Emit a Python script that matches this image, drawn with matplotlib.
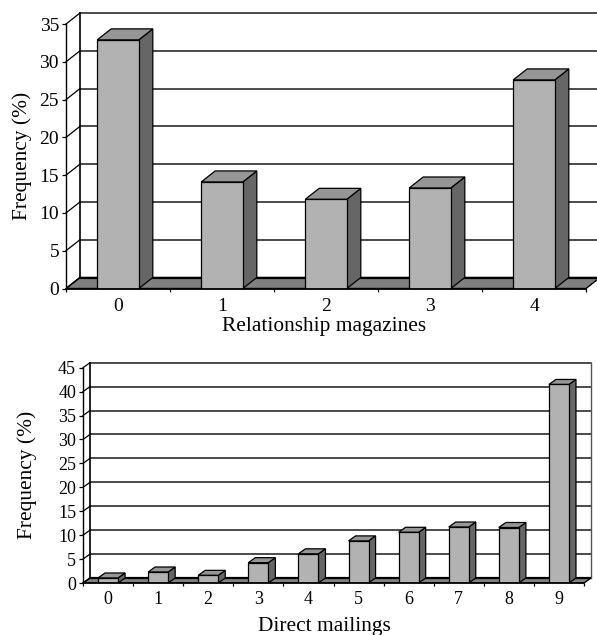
import matplotlib
matplotlib.use('Agg')
import matplotlib.pyplot as plt
from matplotlib.patches import Polygon

plt.rcParams['font.family'] = ['Liberation Serif', 'DejaVu Serif']

# values
magazines = ['0', '1', '2', '3', '4']
magazines_freq = [32.9, 14.1, 11.8, 13.3, 27.6]
magazines_ticks = [0, 5, 10, 15, 20, 25, 30, 35]

mailings = ['0', '1', '2', '3', '4', '5', '6', '7', '8', '9']
mailings_freq = [1.05, 2.3, 1.6, 4.25, 6.1, 8.8, 10.6, 11.7, 11.6, 41.5]
mailings_ticks = [0, 5, 10, 15, 20, 25, 30, 35, 40, 45]

W, H = 597, 635


def bar3d(ax, labels, values, yticks, box, depth_px, xlabel, xlabel_px, ylabel_x, tick_size, tick_pad):
    # box is left, right, bottom, top of the front plane in pixels
    left, right, bottom, top = box
    dpx, dpy = depth_px
    n = len(labels)
    ymax = yticks[-1]
    unit_x = (right - left) / n
    unit_y = (bottom - top) / ymax
    dx = dpx / unit_x
    dy = dpy / unit_y
    full_w = right - left + dpx
    full_h = bottom - top + dpy

    ax.set_position([left / W, 1 - bottom / H, full_w / W, full_h / H])
    ax.set_xlim(-0.5, n - 0.5 + dx)
    ax.set_ylim(0, ymax + dy)
    ax.patch.set_visible(False)

    # back wall and floor
    x0, x1 = -0.5, n - 0.5
    ax.add_patch(Polygon([(x0, 0), (x1, 0), (x1 + dx, dy), (x0 + dx, dy)],
                         facecolor='#808080', edgecolor='black', lw=1.0, zorder=1))
    ax.plot([x0 + dx, x1 + dx], [dy, dy], color='black', lw=1.6, zorder=1.5)
    for t in yticks[1:]:
        ax.plot([x0, x0 + dx], [t, t + dy], color='black', lw=0.9, zorder=1, clip_on=False)
        ax.plot([x0 + dx, x1 + dx], [t + dy, t + dy], color='#1a1a1a', lw=1.1, zorder=1, clip_on=False)
    ax.plot([x0, x0 + dx], [0, dy], color='black', lw=1.0, zorder=1.5)
    ax.plot([x0 + dx, x0 + dx], [dy, ymax + dy], color='black', lw=1.2, zorder=1, clip_on=False)
    ax.plot([x1 + dx, x1 + dx], [dy, ymax + dy], color='#555555', lw=1.0, zorder=1, clip_on=False)

    # bars
    w = 0.4
    for i, v in enumerate(values):
        a, b = i - w / 2, i + w / 2
        ax.add_patch(Polygon([(b, 0), (b + dx, dy), (b + dx, v + dy), (b, v)],
                             facecolor='#666666', edgecolor='black', lw=0.9, zorder=3))
        ax.add_patch(Polygon([(a, v), (b, v), (b + dx, v + dy), (a + dx, v + dy)],
                             facecolor='#969696', edgecolor='black', lw=0.9, zorder=3))
        ax.add_patch(Polygon([(a, 0), (b, 0), (b, v), (a, v)],
                             facecolor='#b2b2b2', edgecolor='black', lw=0.9, zorder=4))

    for s in ['top', 'right']:
        ax.spines[s].set_visible(False)
    ax.spines['left'].set_bounds(0, ymax)
    ax.spines['bottom'].set_bounds(x0, x1)
    ax.spines['left'].set_linewidth(1.0)
    ax.spines['bottom'].set_linewidth(1.3)
    ax.spines['bottom'].set_zorder(5)

    ax.set_yticks(yticks)
    ax.tick_params(axis='y', length=3, width=0.9, pad=2, labelsize=tick_size)
    ax.set_xticks([i - 0.5 for i in range(n + 1)])
    ax.set_xticklabels([])
    ax.tick_params(axis='x', which='major', length=2.5, width=0.9)
    ax.set_xticks(range(n), minor=True)
    ax.set_xticklabels(labels, minor=True, fontsize=tick_size)
    ax.tick_params(axis='x', which='minor', length=0, pad=tick_pad)

    ax.set_xlabel(xlabel, fontsize=15.4)
    ax.xaxis.set_label_coords((xlabel_px[0] - left) / full_w, -xlabel_px[1] / full_h)
    ax.set_ylabel('Frequency (%)', fontsize=15.4)
    ax.yaxis.set_label_coords((ylabel_x - left) / full_w, ylabel_x_mid(bottom, top, full_h))


def ylabel_x_mid(bottom, top, full_h):
    return 0.5 * (bottom - top) / full_h


fig = plt.figure(figsize=(5.97, 6.35), dpi=100)
ax1 = fig.add_axes([0.1, 0.55, 0.8, 0.4])
ax2 = fig.add_axes([0.1, 0.05, 0.8, 0.4])

bar3d(ax1, magazines, magazines_freq, magazines_ticks,
      (66, 586, 288.5, 24), (14, 11), 'Relationship magazines', (324, 28), 32, 14, 7)
bar3d(ax2, mailings, mailings_freq, mailings_ticks,
      (83, 584, 583, 367.7), (7, 5), 'Direct mailings', (324.5, 33.5), 37, 13, 6)

fig.savefig('out.png', dpi=100)
